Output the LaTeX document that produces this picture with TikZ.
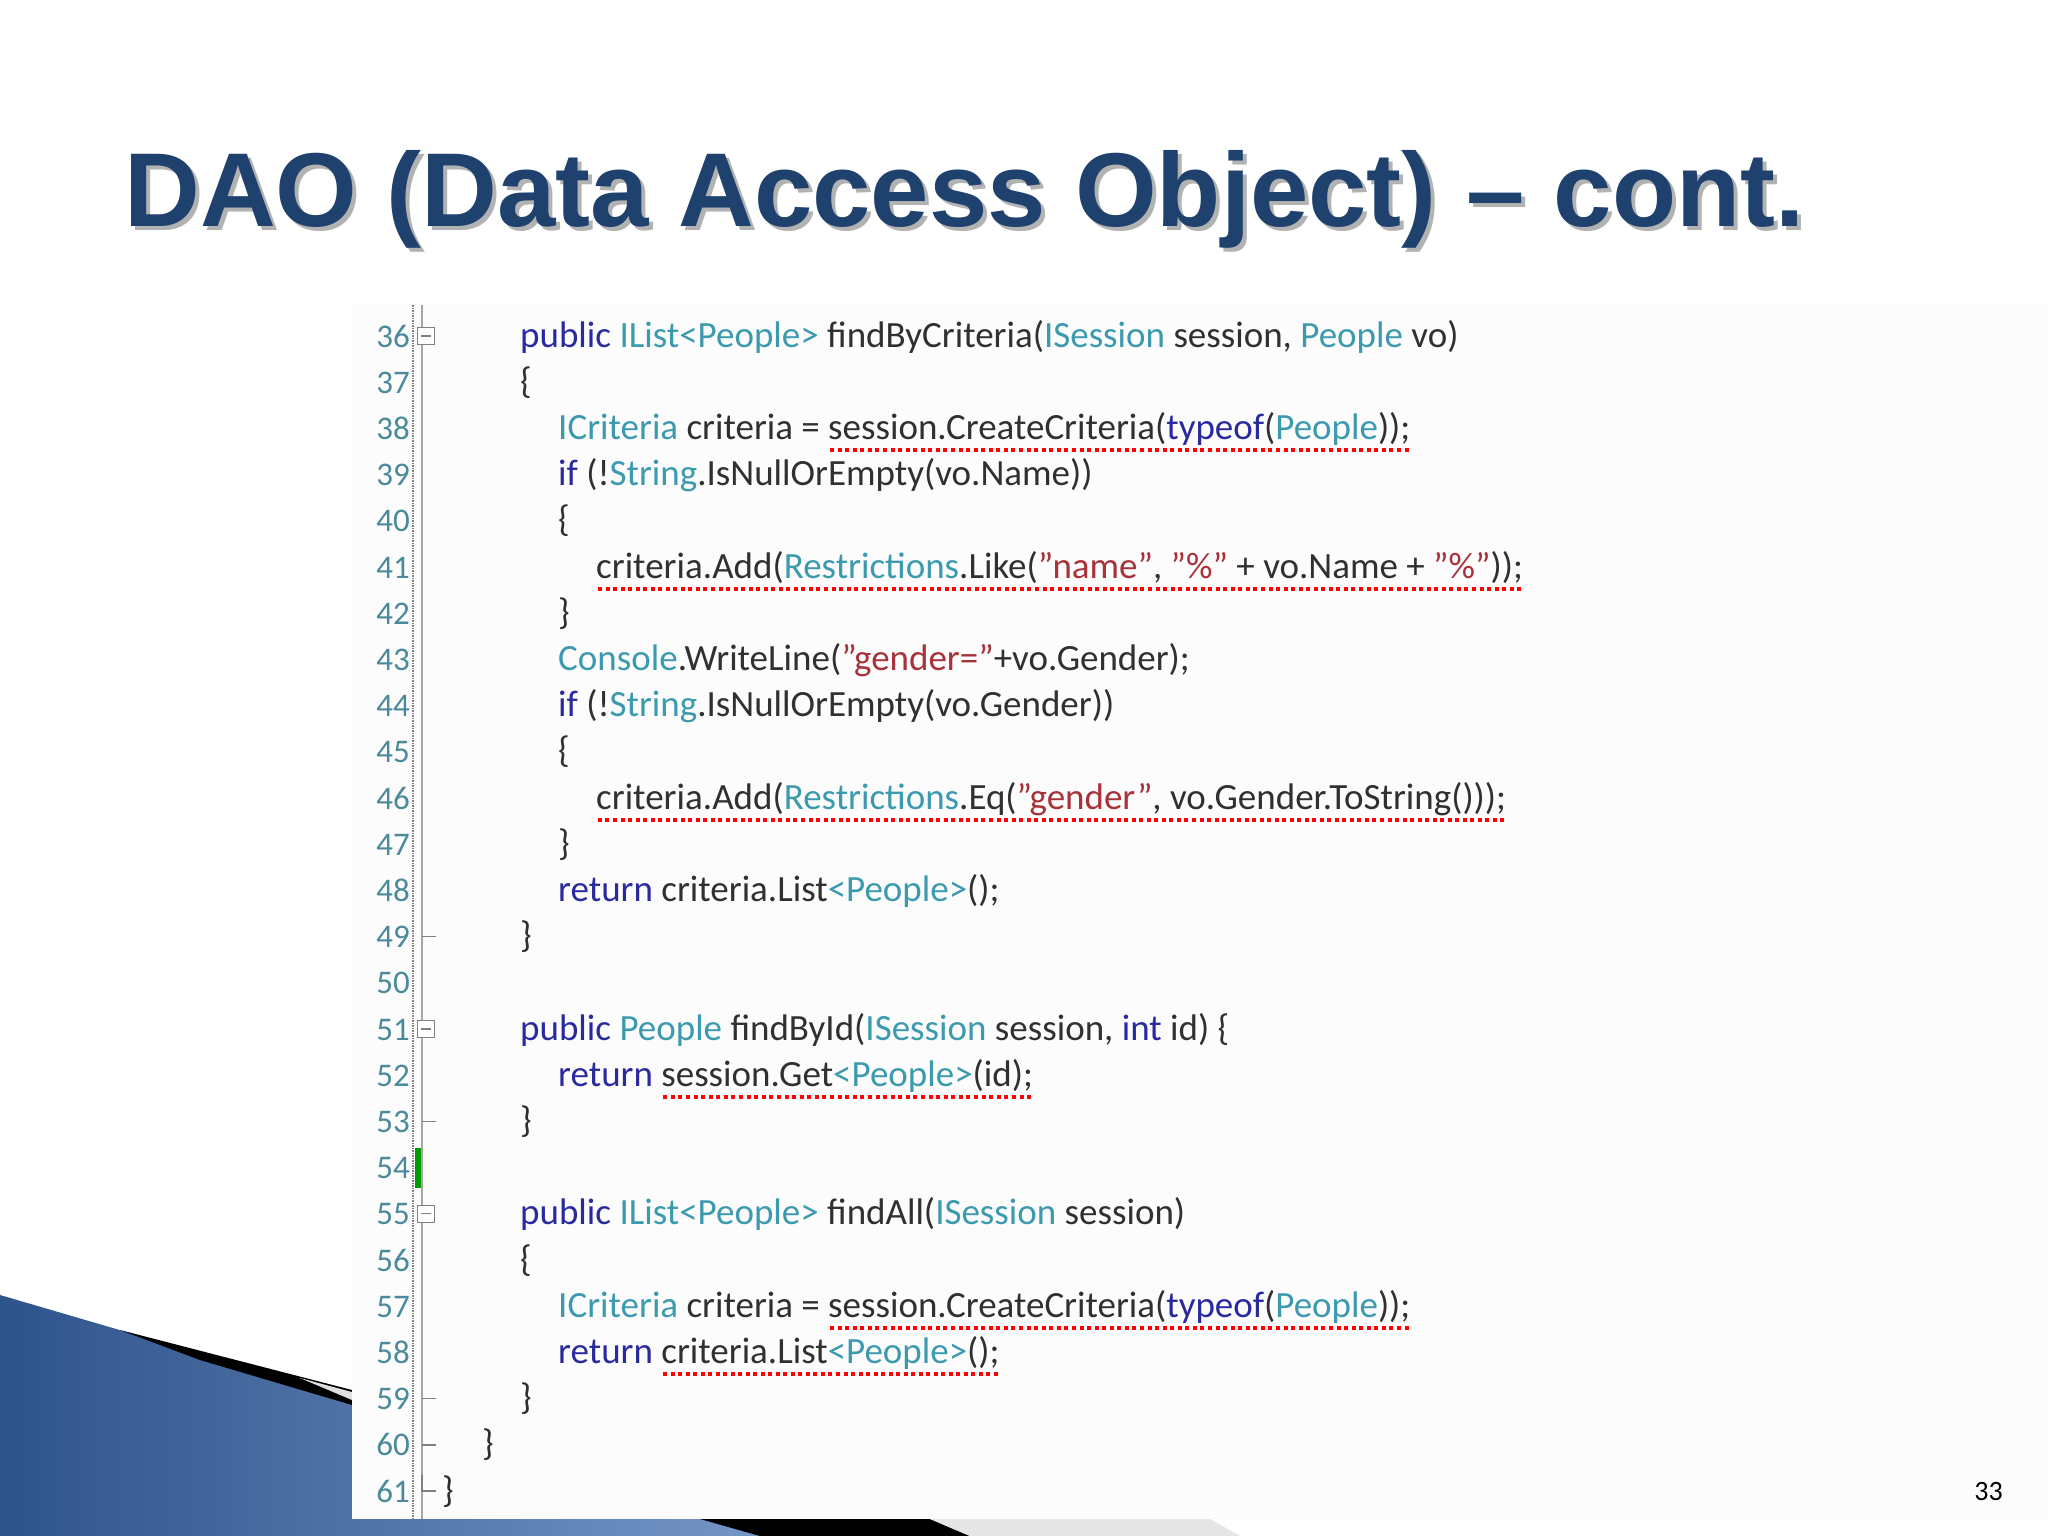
\documentclass[tikz,border=0pt]{standalone}
\usepackage{fontspec}
\setmainfont{Carlito}
\newfontfamily\titlefont{Liberation Sans}
\definecolor{kw}{HTML}{2A2AA0}
\definecolor{ty}{HTML}{3C9AAE}
\definecolor{st}{HTML}{A8323A}
\definecolor{tx}{HTML}{303030}
\definecolor{ln}{HTML}{4A8A9A}
\definecolor{ttl}{HTML}{1E416E}
\definecolor{swb}{HTML}{3A68AE}
\newcommand\K[1]{\textcolor{kw}{#1}}
\newcommand\T[1]{\textcolor{ty}{#1}}
\newcommand\Sx[1]{\textcolor{st}{#1}}
\newcommand\Q{\symbol{34}}
\newcommand\rul[1]{\setbox0\hbox{#1}\rlap{\raisebox{-13pt}{\hbox to \wd0{\color{red}\xleaders\hbox to 7.5pt{\hss\rule{4pt}{4pt}\hss}\hfill}}}\box0}
\tikzset{code/.style={anchor=base west,inner sep=0,font=\fontsize{37}{37}\selectfont,text=tx},
lnum/.style={anchor=base east,inner sep=0,font=\fontsize{33}{33}\selectfont,text=ln}}
\begin{document}
\begin{tikzpicture}[x=1pt,y=-1pt]
\useasboundingbox (0,0) rectangle (2048,1536);
\fill[white] (0,0) rectangle (2048,1536);
% swoosh
\shade[left color=swb!80!black,right color=swb!70!white] (0,1295) -- (352,1398) -- (352,1519) -- (720,1519) -- (760,1536) -- (0,1536) -- cycle;
\fill[black] (120,1330) -- (352,1390) -- (352,1405) -- (200,1360) -- cycle;
\fill[gray!25] (300,1378) -- (352,1392) -- (352,1400) -- cycle;
\fill[black] (700,1519) -- (930,1519) -- (970,1536) -- (760,1536) -- cycle;
\fill[gray!20] (930,1519) -- (1210,1519) -- (1240,1536) -- (970,1536) -- cycle;
\fill[white!98!gray] (352,303) rectangle (2048,1519);
% title
\node[anchor=base west,inner sep=0,font=\titlefont\bfseries\fontsize{105}{105}\selectfont,text=black!30] (t0) at (128,230) {DAO (Data Access Object) – cont.};
\node[anchor=base west,inner sep=0,font=\titlefont\bfseries\fontsize{105}{105}\selectfont,text=ttl] (title) at (124,226) {DAO (Data Access Object) – cont.};
% gutter
\draw[gray,densely dotted,line width=1.5pt] (413,305) -- (413,1519);
\draw[gray!70,line width=2pt] (422,305) -- (422,1519);
\fill[green!60!black] (415,1148) rectangle (421,1188);
\foreach \i [count=\n from 0] in {36,...,61}{
  \node[lnum] (n\i) at (410,347+46.2*\n) {\i};
}
\foreach \i in {36,51,55}{
  \node[draw=gray,fill=white,minimum size=17pt,inner sep=0] (f\i) at (426,347+46.2*\i-46.2*36-11) {};
  \draw[gray,line width=1.2pt] ([xshift=-5pt]f\i.center) -- ([xshift=5pt]f\i.center);
}
\foreach \i in {49,53,59,60}{
  \draw[gray,line width=1.5pt] (422,347+46.2*\i-46.2*36-11) -- (436,347+46.2*\i-46.2*36-11);
}
\draw[gray,line width=1.5pt] (422,1475) -- (422,1491) -- (436,1491);
% code
\node[code] (c36) at (520,347) {\K{public} \T{IList<People>} findByCriteria(\T{ISession} session, \T{People} vo)};
\node[code] (c37) at (520,393.2) {\{};
\node[code] (c38) at (558,439.4) {\T{ICriteria} criteria = \rul{session.CreateCriteria(\K{typeof}(\T{People}));}};
\node[code] (c39) at (558,485.6) {\K{if} (!\T{String}.IsNullOrEmpty(vo.Name))};
\node[code] (c40) at (558,531.8) {\{};
\node[code] (c41) at (596,578) {\rul{criteria.Add(\T{Restrictions}.Like(\Sx{\Q name\Q}, \Sx{\Q\%\Q} + vo.Name + \Sx{\Q\%\Q}));}};
\node[code] (c42) at (558,624.2) {\}};
\node[code] (c43) at (558,670.4) {\T{Console}.WriteLine(\Sx{\Q gender=\Q}+vo.Gender);};
\node[code] (c44) at (558,716.6) {\K{if} (!\T{String}.IsNullOrEmpty(vo.Gender))};
\node[code] (c45) at (558,762.8) {\{};
\node[code] (c46) at (596,809) {\rul{criteria.Add(\T{Restrictions}.Eq(\Sx{\Q gender\Q}, vo.Gender.ToString()));}};
\node[code] (c47) at (558,855.2) {\}};
\node[code] (c48) at (558,901.4) {\K{return} criteria.List\T{<People>}();};
\node[code] (c49) at (520,947.6) {\}};
\node[code] (c51) at (520,1040) {\K{public} \T{People} findById(\T{ISession} session, \K{int} id) \{};
\node[code] (c52) at (558,1086.2) {\K{return} \rul{session.Get\T{<People>}(id);}};
\node[code] (c53) at (520,1132.4) {\}};
\node[code] (c55) at (520,1224.8) {\K{public} \T{IList<People>} findAll(\T{ISession} session)};
\node[code] (c56) at (520,1271) {\{};
\node[code] (c57) at (558,1317.2) {\T{ICriteria} criteria = \rul{session.CreateCriteria(\K{typeof}(\T{People}));}};
\node[code] (c58) at (558,1363.4) {\K{return} \rul{criteria.List\T{<People>}();}};
\node[code] (c59) at (520,1409.6) {\}};
\node[code] (c60) at (482,1455.8) {\}};
\node[code] (c61) at (442,1502) {\}};
\node[anchor=base east,inner sep=0,font=\fontsize{28}{28}\selectfont] (pg) at (2003,1500) {33};
\end{tikzpicture}
\end{document}
